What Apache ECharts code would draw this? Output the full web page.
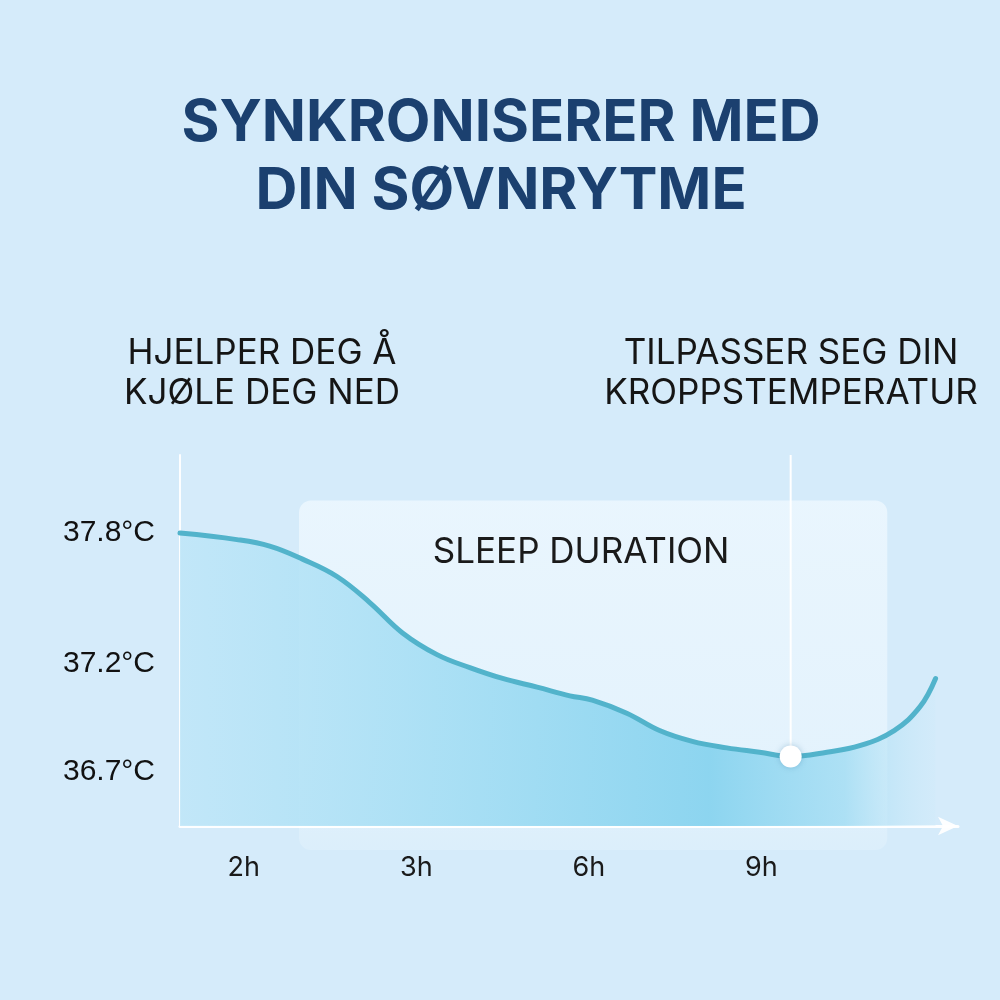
<!DOCTYPE html>
<html>
<head>
<meta charset="utf-8">
<style>
  html, body { margin: 0; padding: 0; background: #d5ebfa; }
  #chart { width: 1000px; height: 1000px; }
</style>
<script src="https://cdn.jsdelivr.net/npm/echarts@6/dist/echarts.min.js"></script>
</head>
<body>
<div id="chart"></div>
<script>
// x is measured in label slots: 2h sits at slot 1, 3h at 2, 6h at 3, 9h at 4
var tickLabels = ["2h", "3h", "6h", "9h"];
var tickSlots = [1, 2, 3, 4];
var tempTicks = [36.7, 37.2, 37.8];

// body temperature curve
var timeSlots = [0.63, 0.96, 1.15, 1.34, 1.54, 1.73, 1.92, 2.12, 2.31, 2.50, 2.70, 2.89,
  3.02, 3.22, 3.41, 3.60, 3.80, 3.99, 4.17, 4.38, 4.57, 4.77, 4.92, 5.01];
var bodyTemp = [37.80, 37.77, 37.74, 37.68, 37.60, 37.48, 37.34, 37.24, 37.18, 37.13, 37.09, 37.05,
  37.03, 36.97, 36.89, 36.84, 36.81, 36.79, 36.77, 36.79, 36.82, 36.89, 37.00, 37.13];

var sleepWindow = [1.32, 4.73];
var sleepTop = 37.95;

var xMin = 0.63, xMax = 5.14;
var yMin = 36.45, yMax = 38.16;

var curve = timeSlots.map(function (s, i) { return [s, bodyTemp[i]]; });
var lowIdx = bodyTemp.indexOf(Math.min.apply(null, bodyTemp));
var lowPoint = curve[lowIdx];

var chart = echarts.init(document.getElementById("chart"));

chart.setOption({
  backgroundColor: "#d5ebfa",
  animation: false,
  title: [
    {
      text: "SYNKRONISERER MED\nDIN SØVNRYTME",
      left: 496,
      top: 85,
      textAlign: "center",
      textStyle: {
        fontFamily: "Inter", fontWeight: 700, fontSize: 58,
        color: "#1b406f", lineHeight: 68
      }
    },
    {
      text: "HJELPER DEG Å\nKJØLE DEG NED",
      left: 257,
      top: 328,
      textAlign: "center",
      textStyle: { fontFamily: "Inter", fontWeight: 400, fontSize: 35, color: "#151515", lineHeight: 40 }
    },
    {
      text: "TILPASSER SEG DIN\nKROPPSTEMPERATUR",
      left: 786,
      top: 328,
      textAlign: "center",
      textStyle: { fontFamily: "Inter", fontWeight: 400, fontSize: 35, color: "#151515", lineHeight: 40 }
    }
  ],
  grid: { left: 180, right: 42, top: 455, bottom: 174 },
  xAxis: {
    type: "value",
    min: xMin,
    max: xMax,
    splitLine: { show: false },
    axisTick: { show: false },
    axisLine: {
      show: true,
      symbol: ["none", "arrow"],
      symbolSize: [14, 20],
      lineStyle: { color: "rgba(255,255,255,0.95)", width: 3 }
    },
    axisLabel: {
      customValues: tickSlots,
      formatter: function (v) { return tickLabels[tickSlots.indexOf(v)] || ""; },
      margin: 28,
      fontFamily: "Inter",
      fontSize: 27,
      color: "#1a1a1a"
    }
  },
  yAxis: {
    type: "value",
    min: yMin,
    max: yMax,
    splitLine: { show: false },
    axisTick: { show: false },
    axisLine: { show: true, lineStyle: { color: "rgba(255,255,255,0.95)", width: 2 } },
    axisLabel: {
      customValues: tempTicks,
      formatter: function (v) { return v.toFixed(1) + "°C"; },
      margin: 25,
      fontFamily: "Liberation Sans",
      fontSize: 30,
      color: "#111111"
    }
  },
  series: [
    {
      type: "line",
      data: curve,
      smooth: 0.4,
      showSymbol: false,
      z: 3,
      lineStyle: { color: "#52b3cb", width: 5, cap: "round" },
      areaStyle: {
        origin: "start",
        opacity: 1,
        color: new echarts.graphic.LinearGradient(0, 0, 1, 0, [
          { offset: 0, color: "rgba(190,230,248,0.85)" },
          { offset: 0.35, color: "rgba(165,222,244,0.92)" },
          { offset: 0.7, color: "rgba(138,212,239,0.97)" },
          { offset: 0.88, color: "rgba(160,220,243,0.8)" },
          { offset: 1, color: "rgba(205,234,249,0.3)" }
        ])
      }
    },
    {
      type: "line",
      data: [[lowPoint[0], yMax], lowPoint],
      showSymbol: false,
      z: 4,
      lineStyle: { color: "#ffffff", width: 2 }
    },
    {
      type: "scatter",
      data: [lowPoint],
      symbolSize: 22,
      z: 5,
      itemStyle: {
        color: "#ffffff",
        opacity: 1,
        shadowBlur: 6,
        shadowColor: "rgba(60,120,160,0.35)"
      }
    }
  ]
});

// soft "sleep duration" panel behind the curve, placed through the axes
var p0 = chart.convertToPixel({ gridIndex: 0 }, [sleepWindow[0], sleepTop]);
var p1 = chart.convertToPixel({ gridIndex: 0 }, [sleepWindow[1], yMin]);
var boxBottom = p1[1] + 24;

chart.setOption({
  graphic: [
    {
      type: "rect",
      z: 0,
      silent: true,
      shape: { x: p0[0], y: p0[1], width: p1[0] - p0[0], height: boxBottom - p0[1], r: 12 },
      style: {
        fill: new echarts.graphic.LinearGradient(0, 0, 0, 1, [
          { offset: 0, color: "rgba(240,249,255,0.75)" },
          { offset: 0.7, color: "rgba(240,249,255,0.55)" },
          { offset: 1, color: "rgba(240,249,255,0.25)" }
        ])
      }
    },
    {
      type: "text",
      z: 6,
      silent: true,
      x: (p0[0] + p1[0]) / 2 - 12,
      y: p0[1] + 52,
      style: {
        text: "SLEEP DURATION",
        fontFamily: "Inter",
        fontSize: 35,
        fill: "#1a1a1a",
        align: "center",
        verticalAlign: "middle"
      }
    }
  ]
});
</script>
</body>
</html>
